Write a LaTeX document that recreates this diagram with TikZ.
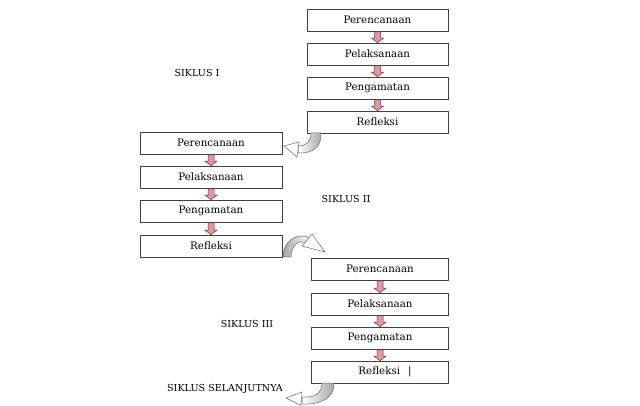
\documentclass[tikz,border=0pt]{standalone}
\usepackage{fontspec}
\setmainfont{DejaVu Serif}
\definecolor{pinkfill}{RGB}{228,150,160}
\definecolor{pinkdraw}{RGB}{110,55,55}
\newcommand{\pinkarrow}[2]{%
  \draw[pinkarr] ([xshift=-3pt,yshift=-0.5pt]#1.south) -- ([xshift=-3pt,yshift=4.5pt]#2.north)
    -- ([xshift=-6pt,yshift=4.5pt]#2.north) -- (#2.north)
    -- ([xshift=6pt,yshift=4.5pt]#2.north) -- ([xshift=3pt,yshift=4.5pt]#2.north)
    -- ([xshift=3pt,yshift=-0.5pt]#1.south) -- cycle;}
\begin{document}
\begin{tikzpicture}[x=1pt,y=-1pt,
  box/.style={draw=black!75, line width=0.7pt, minimum width=141pt, minimum height=22pt,
    inner sep=0pt, fill=white, font=\fontsize{10.3}{12}\selectfont},
  lab/.style={inner sep=0pt, font=\fontsize{9.6}{11}\selectfont},
  pinkarr/.style={fill=pinkfill, draw=pinkdraw, line width=0.5pt},
  curv/.style={draw=black!60, line width=0.5pt},
  headw/.style={draw=black!60, line width=0.5pt, fill=white}]
\useasboundingbox (0,0) rectangle (640,406);

% group 1
\node[box] (a1) at (377.5,20) {Perencanaan};
\node[box] (a2) at (377.5,54) {Pelaksanaan};
\node[box] (a3) at (377.5,88) {Pengamatan};
\node[box] (a4) at (377.5,122) {Refleksi};
% group 2
\node[box, minimum width=142pt] (b1) at (211,143) {Perencanaan};
\node[box, minimum width=142pt] (b2) at (211,177) {Pelaksanaan};
\node[box, minimum width=142pt] (b3) at (211,211) {Pengamatan};
\node[box, minimum width=142pt] (b4) at (211,246) {Refleksi};
% group 3
\node[box, minimum width=137pt] (c1) at (380,269) {Perencanaan};
\node[box, minimum width=137pt] (c2) at (380,304) {Pelaksanaan};
\node[box, minimum width=137pt] (c3) at (380,338) {Pengamatan};
\node[box, minimum width=137pt] (c4) at (380,372) {\hspace*{10pt}Refleksi\hspace{8pt}|};

\pinkarrow{a1}{a2}
\pinkarrow{a2}{a3}
\pinkarrow{a3}{a4}
\pinkarrow{b1}{b2}
\pinkarrow{b2}{b3}
\pinkarrow{b3}{b4}
\pinkarrow{c1}{c2}
\pinkarrow{c2}{c3}
\pinkarrow{c3}{c4}

% labels
\node[lab] (s1) at (197,73) {SIKLUS I};
\node[lab] (s2) at (346,199) {SIKLUS II};
\node[lab] (s3) at (247,324) {SIKLUS III};
\node[lab] (s4) at (225,389) {SIKLUS SELANJUTNYA};

% curved arrow 1: a4 -> b1
\shade[curv, left color=white, right color=gray!70]
  (311,133) .. controls (311,142) and (306,146) .. (298,146) -- (298,153)
  .. controls (313,154) and (322,146) .. (321,133) -- cycle;
\draw[headw] (299,142) -- (284,146) -- (297,157) -- cycle;

% curved arrow 2: b4 -> c1
\shade[curv, left color=gray!70, right color=white]
  (283,257) .. controls (283,241) and (297,232) .. (309.5,237.5) -- (304.5,242.5)
  .. controls (299,239) and (291,246) .. (291,257) -- cycle;
\draw[headw] (312,234) -- (325,252) -- (302,246) -- cycle;

% curved arrow 3: c4 -> next
\shade[curv, left color=white, right color=gray!70]
  (322,383) .. controls (322,393) and (315,398) .. (302,397) -- (302,404)
  .. controls (322,405) and (335,397) .. (334,383) -- cycle;
\draw[headw] (302,392) -- (286,398) -- (301,405.5) -- cycle;
\end{tikzpicture}
\end{document}
